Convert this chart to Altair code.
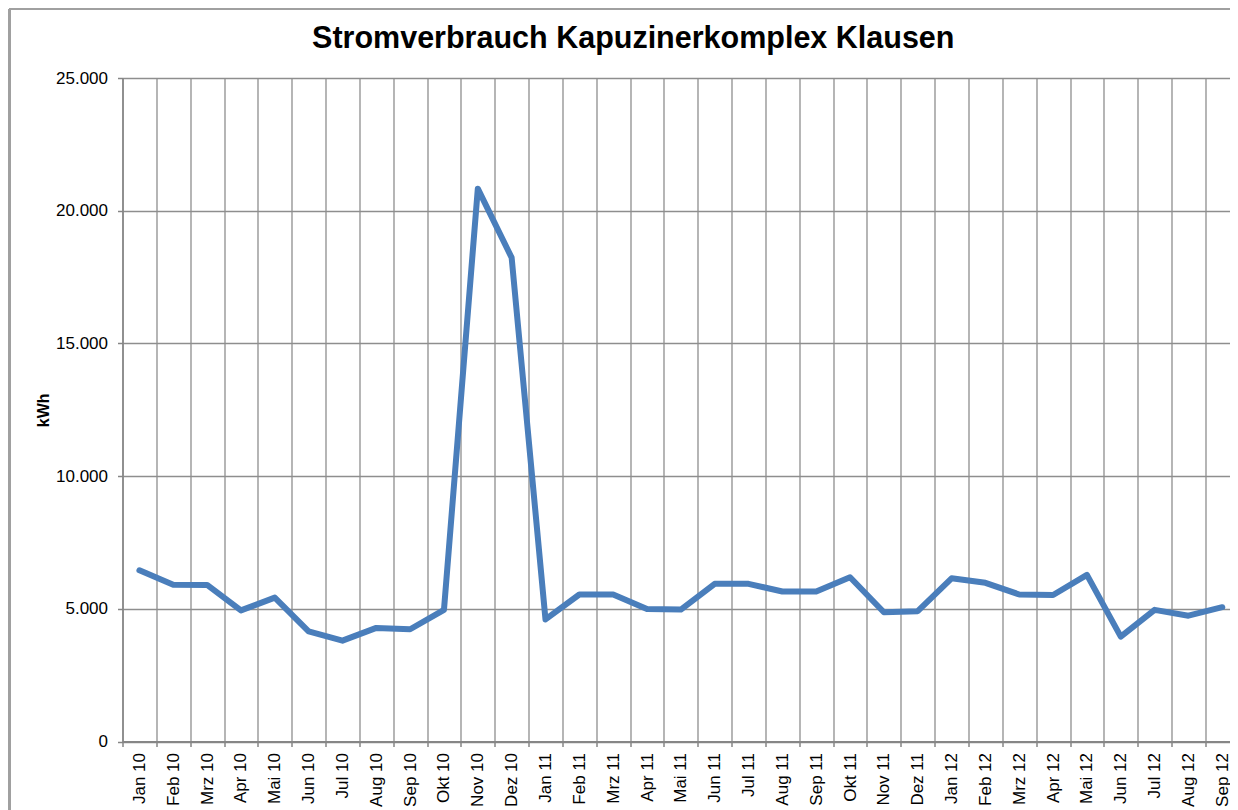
import altair as alt
import pandas as pd

months = [
    "Jan 10", "Feb 10", "Mrz 10", "Apr 10", "Mai 10", "Jun 10", "Jul 10", "Aug 10",
    "Sep 10", "Okt 10", "Nov 10", "Dez 10",
    "Jan 11", "Feb 11", "Mrz 11", "Apr 11", "Mai 11", "Jun 11", "Jul 11", "Aug 11",
    "Sep 11", "Okt 11", "Nov 11", "Dez 11",
    "Jan 12", "Feb 12", "Mrz 12", "Apr 12", "Mai 12", "Jun 12", "Jul 12", "Aug 12",
    "Sep 12",
]
kwh = [
    6450, 5910, 5900, 4940, 5420, 4150, 3800, 4280, 4230, 4960, 20830, 18230,
    4600, 5540, 5540, 4990, 4970, 5940, 5940, 5650, 5650, 6190, 4870, 4910,
    6150, 5980, 5540, 5520, 6280, 3950, 4960, 4740, 5060,
]
y_ticks = [0, 5000, 10000, 15000, 20000, 25000]

df = pd.DataFrame({"Monat": months, "kWh": kwh})

FONT = "Liberation Sans"
PAD_L = 114.5
PLOT_W = 1222 - PAD_L      # visible plot width (page is 1222 px wide inside margins)
BAND_RANGE = 1116.7        # full extent of the 33 month bands (last one runs off the page)
PLOT_H = 663.5
PAD_T = 70
PAD_B = 802 - PAD_T - PLOT_H

line = alt.Chart(df).mark_line(
    color="#4a7ebb", strokeWidth=6, strokeCap="round", strokeJoin="round"
).encode(
    x=alt.X(
        "Monat:O",
        sort=months,
        scale=alt.Scale(type="band", paddingInner=0, paddingOuter=0, range=[0, BAND_RANGE]),
        axis=alt.Axis(
            title=None,
            labelAngle=-90,
            labelFont=FONT,
            labelFontSize=17,
            labelColor="#000000",
            labelPadding=6,
            tickBand="extent",
            tickSize=5,
            tickColor="#868686",
            tickWidth=1.5,
            grid=True,
            gridColor="#8e8e8e",
            gridWidth=1.3,
            domainColor="#868686",
            domainWidth=2,
        ),
    ),
    y=alt.Y(
        "kWh:Q",
        scale=alt.Scale(domain=[0, 25000], nice=False),
        axis=alt.Axis(
            title="kWh",
            values=y_ticks,
            labelExpr="replace(format(datum.value, ','), ',', '.')",
            labelFont=FONT,
            labelFontSize=17,
            labelColor="#000000",
            labelPadding=10,
            tickSize=5,
            tickColor="#868686",
            tickWidth=1.5,
            grid=True,
            gridColor="#8e8e8e",
            gridWidth=1.3,
            domainColor="#868686",
            domainWidth=1.5,
            titleFont=FONT,
            titleFontSize=16,
            titleFontWeight="bold",
            titleColor="#000000",
            titleAngle=270,
            titleAlign="center",
            titleBaseline="alphabetic",
            titleX=-74,
            titleY=PLOT_H / 2,
        ),
    ),
)

top_border = alt.Chart(df).mark_rule(color="#a0a0a0", strokeWidth=2, clip=False).encode(
    x=alt.value(-113.5), x2=alt.value(PLOT_W), y=alt.value(-69)
)
left_border = alt.Chart(df).mark_rule(color="#a0a0a0", strokeWidth=2, clip=False).encode(
    x=alt.value(-113), y=alt.value(-69), y2=alt.value(PLOT_H + 80)
)

chart = alt.layer(line, top_border, left_border).properties(
    width=PLOT_W,
    height=PLOT_H,
    autosize=alt.AutoSizeParams(type="none"),
    padding={"left": PAD_L, "top": PAD_T, "right": 0, "bottom": PAD_B},
    title=alt.TitleParams(
        text="Stromverbrauch Kapuzinerkomplex Klausen",
        font=FONT,
        fontSize=30.5,
        fontWeight="bold",
        color="#000000",
        anchor="middle",
        frame="group",
        baseline="alphabetic",
        offset=0,
        dx=-43,
        dy=70,
    ),
).configure_view(
    fill="#e5e5e5", stroke="transparent"
).configure(background="#ffffff")

chart.save("out.html", embed_options={"renderer": "svg", "actions": False})
